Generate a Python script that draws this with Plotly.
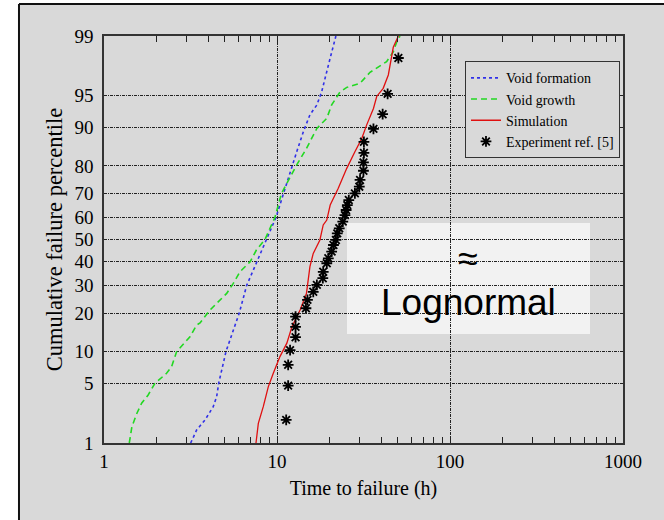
from statistics import NormalDist
import plotly.graph_objects as go

# Cumulative failure probability plot (lognormal paper): log time vs. normal quantile
pct_ticks = [1, 5, 10, 20, 30, 40, 50, 60, 70, 80, 90, 95, 99]
time_ticks = [1, 10, 100, 1000]
time_minor = [m * d for d in (1, 10, 100) for m in range(2, 10)]

# Void formation model
vf_time = [3.17, 3.43, 3.84, 4.19, 4.28, 4.48, 4.60, 5.07, 6.05, 6.68, 7.63, 8.72,
           9.87, 10.9, 12.2, 13.0, 14.2, 15.5, 17.0, 18.1, 20.3, 21.9]
vf_pct = [1.0, 1.47, 1.96, 2.57, 2.8, 3.62, 5.0, 10.0, 20.0, 30.0, 40.0, 50.0,
          60.0, 70.0, 80.0, 84.2, 89.1, 92.3, 93.8, 95.4, 98.1, 99.0]

# Void growth model
vg_time = [1.40, 1.45, 1.55, 1.65, 1.80, 1.97, 2.30, 2.46, 2.63, 3.14, 3.43, 3.59,
           4.10, 5.12, 5.59, 6.11, 7.0, 7.6, 8.52, 9.73, 10.6, 13.0, 14.8, 17.0,
           19.4, 20.7, 23.1, 25.3, 30.2, 34.5, 43.0, 47.0, 49.2, 51.4]
vg_pct = [1.0, 1.62, 2.35, 3.06, 3.78, 5.0, 6.31, 7.3, 10.0, 13.3, 16.4, 17.0,
          21.0, 26.9, 30.8, 35.6, 40.0, 45.2, 50.0, 60.0, 70.0, 80.3, 85.1, 89.8,
          91.7, 93.8, 95.4, 95.9, 96.3, 97.2, 97.9, 98.4, 98.8, 99.0]

# Full simulation
sim_time = [7.56, 7.80, 8.33, 8.91, 9.52, 10.4, 11.4, 12.2, 13.6, 14.8, 15.5, 16.2,
            17.7, 18.5, 19.4, 20.3, 22.6, 25.3, 28.2, 30.9, 33.0, 36.1, 37.7, 41.1,
            44.0, 47.0, 50.3]
sim_pct = [1.0, 1.78, 2.8, 4.63, 6.31, 9.03, 11.8, 15.9, 21.0, 26.9, 37.8, 43.7,
           49.8, 56.6, 58.8, 65.3, 72.1, 79.2, 84.2, 87.6, 90.5, 93.3, 94.9, 95.8,
           97.0, 98.6, 99.0]

# Measured failures
exp_time = [11.3, 11.6, 11.6, 11.9, 12.8, 12.8, 12.8, 14.7, 15.0, 16.2, 17.0, 18.4,
            18.5, 19.4, 19.8, 20.7, 21.2, 21.9, 22.3, 22.9, 24.0, 24.7, 25.1, 25.5,
            26.0, 28.2, 29.9, 30.2, 31.6, 31.6, 31.8, 31.8, 36.1, 40.8, 43.6, 50.3]
exp_pct = [1.96, 4.74, 7.6, 10.3, 13.2, 15.9, 18.9, 21.6, 24.5, 27.5, 30.2, 32.9,
           35.6, 39.3, 41.5, 44.5, 47.5, 49.8, 52.8, 55.1, 58.1, 61.0, 63.2, 65.3,
           67.4, 70.1, 72.7, 75.2, 78.4, 81.1, 83.9, 86.8, 89.7, 92.4, 95.2, 98.1]

nd = NormalDist()


def probit(values):
    return [nd.inv_cdf(v / 100.0) for v in values]


SERIF = "Liberation Serif"
BG = "#d9d9d9"
GRID_DASH = "3px,1px,1px,1px"

fig = go.Figure()
fig.add_trace(go.Scatter(x=vf_time, y=probit(vf_pct), mode="lines", name="Void formation",
                         line=dict(color="#3030e8", width=1.6, dash="dot")))
fig.add_trace(go.Scatter(x=vg_time, y=probit(vg_pct), mode="lines", name="Void growth",
                         line=dict(color="#22d822", width=1.6, dash="6px,4px")))
fig.add_trace(go.Scatter(x=sim_time, y=probit(sim_pct), mode="lines", name="Simulation",
                         line=dict(color="#e01010", width=1.3)))
fig.add_trace(go.Scatter(x=exp_time, y=probit(exp_pct), mode="markers",
                         name="Experiment ref. [5]",
                         marker=dict(symbol="asterisk", size=9, color="black",
                                     line=dict(color="black", width=1.8))))

zlim = nd.inv_cdf(0.99)

fig.update_layout(
    width=664, height=520,
    margin=dict(l=104, r=41, t=36, b=77),
    paper_bgcolor=BG,
    plot_bgcolor=BG,
    font=dict(family=SERIF, size=19, color="black"),
    showlegend=True,
    legend=dict(x=0.9942, y=0.938, xanchor="right", yanchor="top",
                bgcolor=BG, bordercolor="#333333", borderwidth=1,
                font=dict(family=SERIF, size=14), itemwidth=30,
                tracegroupgap=0),
    xaxis=dict(type="log", range=[0, 3],
               tickmode="array", tickvals=time_ticks,
               ticktext=[str(t) for t in time_ticks],
               ticks="inside", ticklen=6, tickwidth=1.2, tickcolor="#222",
               minor=dict(tickmode="array", tickvals=time_minor, ticks="inside",
                          ticklen=6, tickwidth=1.2, tickcolor="#222", showgrid=False),
               showgrid=True, gridcolor="#222", gridwidth=1, griddash=GRID_DASH,
               showline=True, linecolor="#333", linewidth=1.5, mirror="ticks",
               zeroline=False,
               title=dict(text="Time to failure (h)", standoff=10,
                          font=dict(family=SERIF, size=20))),
    yaxis=dict(range=[-zlim, zlim],
               tickmode="array", tickvals=probit(pct_ticks),
               ticktext=[str(p) for p in pct_ticks],
               ticks="", showgrid=True, gridcolor="#222", gridwidth=1,
               griddash=GRID_DASH,
               showline=True, linecolor="#333", linewidth=1.5, mirror=True,
               zeroline=False, ticklabelstandoff=5,
               title=dict(text="Cumulative failure percentile", standoff=6,
                          font=dict(family=SERIF, size=22.5))),
)

# White page margin and dark slide frame at the top-left edge
FX, FY = -0.1638, 1.0786
fig.add_shape(type="rect", xref="paper", yref="paper", x0=-0.3, x1=FX, y0=-0.3, y1=1.3,
              fillcolor="white", line=dict(width=0), layer="above")
fig.add_shape(type="rect", xref="paper", yref="paper", x0=FX, x1=1.2, y0=FY, y1=1.3,
              fillcolor="white", line=dict(width=0), layer="above")
fig.add_shape(type="line", xref="paper", yref="paper", x0=FX, x1=FX, y0=-0.3, y1=FY,
              line=dict(color="#111", width=2), layer="above")
fig.add_shape(type="line", xref="paper", yref="paper", x0=FX, x1=1.2, y0=FY, y1=FY,
              line=dict(color="#111", width=2), layer="above")

# "≈ Lognormal" callout box
fig.add_shape(type="rect", xref="paper", yref="paper",
              x0=0.4682, x1=0.9364, y0=0.2678, y1=0.5405,
              fillcolor="#f2f2f2", line=dict(width=0), layer="between")
fig.add_annotation(text="≈", xref="paper", yref="paper", x=0.7023, y=0.4545,
                   xanchor="center", yanchor="middle", showarrow=False,
                   font=dict(family="Liberation Sans", size=36, color="black"))
fig.add_annotation(text="Lognormal", xref="paper", yref="paper", x=0.7023, y=0.344,
                   xanchor="center", yanchor="middle", showarrow=False,
                   font=dict(family="Liberation Sans", size=37, color="black"))

fig.write_html("out.html")
